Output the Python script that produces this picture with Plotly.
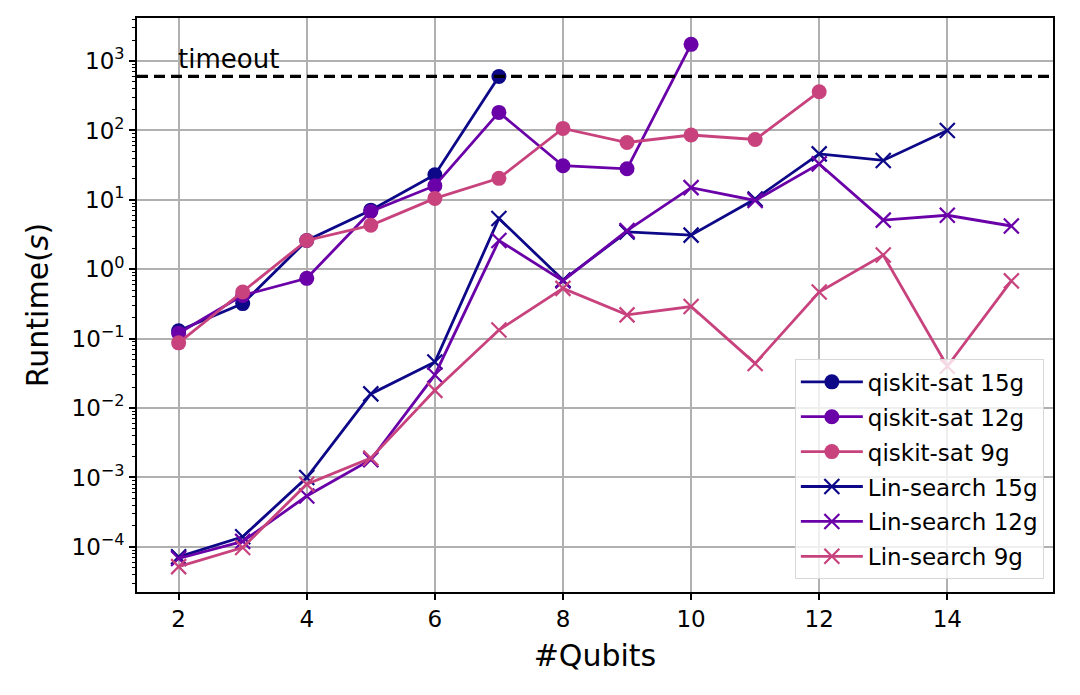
#!/usr/bin/env python
# -*- coding=utf-8 -*-
import numpy as np
import plotly.graph_objects as go

##############################################################################################################
TIMEOUT = 600

SAT_15_X = [2, 3, 4, 5, 6, 7]
SAT_15_Y = [0.13, 0.32, 2.6, 7.1, 23, 600]
SAT_12_X = [2, 3, 4, 5, 6, 7, 8, 9, 10]
SAT_12_Y = [0.12, 0.42, 0.74, 6.8, 16, 182, 31, 28, 1740]
SAT_9_X = [2, 3, 4, 5, 6, 7, 8, 9, 10, 11, 12]
SAT_9_Y = [0.087, 0.47, 2.6, 4.3, 10.5, 20.4, 107, 67, 86, 74, 361]

LIN_15_X = [2, 3, 4, 5, 6, 7, 8, 9, 10, 11, 12, 13, 14]
LIN_15_Y = [7.2e-5, 1.4e-4, 1.0e-3, 0.016, 0.046, 5.4, 0.70, 3.45, 3.1, 10.3, 46, 37, 100]
LIN_12_X = [2, 3, 4, 5, 6, 7, 8, 9, 10, 11, 12, 13, 14, 15]
LIN_12_Y = [6.8e-5, 1.2e-4, 5.4e-4, 1.8e-3, 0.030, 2.6, 0.68, 3.6, 15, 9.8, 33, 5.1, 6.0, 4.2]
LIN_9_X = [2, 3, 4, 5, 6, 7, 8, 9, 10, 11, 12, 13, 14, 15]
LIN_9_Y = [5.2e-5, 9.8e-5, 8.0e-4, 1.9e-3, 0.018, 0.133, 0.53, 0.22, 0.29, 0.044, 0.47, 1.6, 0.040, 0.68]

X_TICKS = [2, 4, 6, 8, 10, 12, 14]
Y_TICKS = [-4, -3, -2, -1, 0, 1, 2, 3]

C15 = '#0d0887'
C12 = '#6a00a8'
C9 = '#c8437e'

##############################################################################################################
def sup(p):
    return '10<sup>' + str(p).replace('-', '\u2212') + '</sup>'


fig = go.Figure()

series = [
    ('qiskit-sat 15g', SAT_15_X, SAT_15_Y, C15, 'circle'),
    ('qiskit-sat 12g', SAT_12_X, SAT_12_Y, C12, 'circle'),
    ('qiskit-sat 9g', SAT_9_X, SAT_9_Y, C9, 'circle'),
    ('Lin-search 15g', LIN_15_X, LIN_15_Y, C15, 'x-thin'),
    ('Lin-search 12g', LIN_12_X, LIN_12_Y, C12, 'x-thin'),
    ('Lin-search 9g', LIN_9_X, LIN_9_Y, C9, 'x-thin'),
]
for name, xs, ys, color, symbol in series:
    if symbol == 'circle':
        marker = dict(symbol='circle', size=15, color=color)
    else:
        marker = dict(symbol='x-thin', size=15, color=color, line=dict(color=color, width=2.2))
    fig.add_trace(go.Scatter(
        x=xs, y=ys, name=name, mode='lines+markers', legendgroup=name,
        line=dict(color=color, width=2.8),
        marker=marker,
    ))

fig.add_hline(y=TIMEOUT, line=dict(color='black', width=3.2, dash='11px,6px'))
fig.add_annotation(x=2, y=np.log10(TIMEOUT), text='timeout', showarrow=False,
                   xanchor='left', yanchor='bottom', xshift=-3, yshift=0,
                   font=dict(size=26, color='black'))

axis_common = dict(
    showline=True, linecolor='black', linewidth=1.6, mirror=True,
    ticks='outside', ticklen=6, tickwidth=1.6, tickcolor='black',
    showgrid=True, gridcolor='#b0b0b0', gridwidth=1.5,
    zeroline=False, tickfont=dict(size=23, color='black'),
)

fig.update_layout(
    width=1080, height=695,
    paper_bgcolor='white', plot_bgcolor='white',
    font=dict(family='DejaVu Sans', color='black'),
    margin=dict(l=129, r=35, t=10, b=111, autoexpand=False),
    xaxis=dict(
        range=[1.35, 15.65], tickvals=X_TICKS,
        title=dict(text='#Qubits', font=dict(size=30), standoff=14),
        **axis_common,
    ),
    yaxis=dict(
        type='log', range=[-4.65, 3.62],
        tickvals=[10.0 ** p for p in Y_TICKS], ticktext=[sup(p) for p in Y_TICKS],
        title=dict(text='Runtime(<i>s</i>)', font=dict(size=30), standoff=14),
        minor=dict(ticks='outside', ticklen=3.5, tickwidth=1.2, tickcolor='black',
                   showgrid=False, dtick='D1'),
        **axis_common,
    ),
    legend=dict(
        x=0.99, y=0.022, xanchor='right', yanchor='bottom',
        bgcolor='rgba(255,255,255,0.8)', bordercolor='#d8d8d8', borderwidth=1,
        font=dict(size=23), tracegroupgap=2, itemwidth=62,
    ),
)

fig.write_html('out.html')
